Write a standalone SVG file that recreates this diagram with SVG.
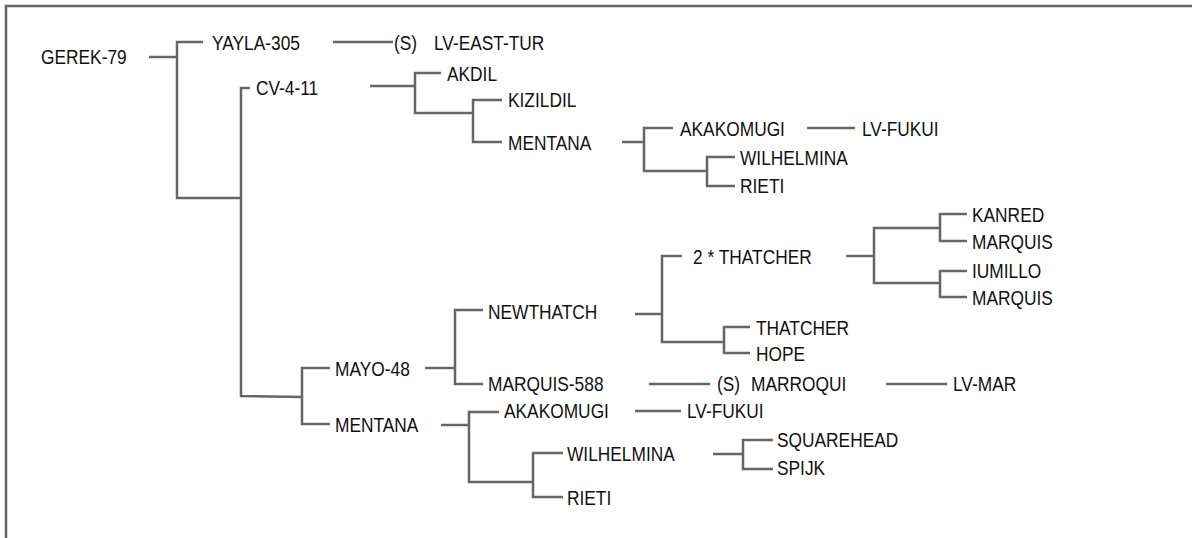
<svg xmlns="http://www.w3.org/2000/svg" width="1192" height="538" viewBox="0 0 1192 538">
<style>
.t{font-family:"Liberation Sans",Arial,sans-serif;font-size:21px;fill:#111;transform:scaleX(0.825);transform-box:fill-box;transform-origin:0 50%}
.c path{fill:none;stroke:#666;stroke-width:2.5}
.frame{fill:none;stroke:#666;stroke-width:2.5}
</style>
<rect x="0" y="0" width="1192" height="538" fill="#fff"/>
<rect class="frame" x="6" y="6" width="1220" height="600"/>
<g class="c" id="connectors">
<path d="M149,57 H177"/>
<path d="M203,42 H177 V198 H241"/>
<path d="M250,88 H241 V396 L302,397"/>
<path d="M333,42 H393"/>
<path d="M370,86 H415"/>
<path d="M441,73 H415 V113 H473"/>
<path d="M502,100 H473 V142 H502"/>
<path d="M622,142 H644"/>
<path d="M673,128 H644 V171 H707"/>
<path d="M735,157 H707 V186 H735"/>
<path d="M807,128 H855"/>
<path d="M635,314 H662"/>
<path d="M682,256 H662 V342 H724"/>
<path d="M750,327 H724 V353 H750"/>
<path d="M846,256 H874"/>
<path d="M940,228 H874 V283 H940"/>
<path d="M967,214 H940 V241 H967"/>
<path d="M967,271 H940 V297 H967"/>
<path d="M330,368 H302 V424 H330"/>
<path d="M425,368 H455"/>
<path d="M483,310 H455 V384 H483"/>
<path d="M649,384 H710"/>
<path d="M886,384 H947"/>
<path d="M441,425 H469"/>
<path d="M499,412 H469 V482 H533"/>
<path d="M563,453 H533 V497 H563"/>
<path d="M635,411 H681"/>
<path d="M713,454 H743"/>
<path d="M773,440 H743 V469 H773"/>
</g>
<g id="gerek79"><text class="t" x="41" y="64">GEREK-79</text></g>
<g id="yayla305"><text class="t" x="212" y="50">YAYLA-305</text></g>
<g id="lveasttur"><text class="t" x="394" y="50">(S)</text><text class="t" x="434" y="50">LV-EAST-TUR</text></g>
<g id="cv411"><text class="t" x="256" y="95">CV-4-11</text></g>
<g id="akdil"><text class="t" x="447" y="81">AKDIL</text></g>
<g id="kizildil"><text class="t" x="508" y="107">KIZILDIL</text></g>
<g id="mentana1"><text class="t" x="508" y="150">MENTANA</text></g>
<g id="akakomugi1"><text class="t" x="680" y="136">AKAKOMUGI</text></g>
<g id="lvfukui1"><text class="t" x="862" y="136">LV-FUKUI</text></g>
<g id="wilhelmina1"><text class="t" x="740" y="165">WILHELMINA</text></g>
<g id="rieti1"><text class="t" x="740" y="193">RIETI</text></g>
<g id="thatcher2"><text class="t" x="693" y="264">2 * THATCHER</text></g>
<g id="kanred"><text class="t" x="972" y="222">KANRED</text></g>
<g id="marquis1"><text class="t" x="972" y="249">MARQUIS</text></g>
<g id="iumillo"><text class="t" x="972" y="278">IUMILLO</text></g>
<g id="marquis2"><text class="t" x="972" y="305">MARQUIS</text></g>
<g id="thatcher"><text class="t" x="756" y="335">THATCHER</text></g>
<g id="hope"><text class="t" x="756" y="361">HOPE</text></g>
<g id="newthatch"><text class="t" x="488" y="319">NEWTHATCH</text></g>
<g id="mayo48"><text class="t" x="335" y="376">MAYO-48</text></g>
<g id="marquis588"><text class="t" x="488" y="391">MARQUIS-588</text></g>
<g id="marroqui"><text class="t" x="717" y="391">(S)</text><text class="t" x="751" y="391">MARROQUI</text></g>
<g id="lvmar"><text class="t" x="953" y="391">LV-MAR</text></g>
<g id="akakomugi2"><text class="t" x="504" y="418">AKAKOMUGI</text></g>
<g id="lvfukui2"><text class="t" x="687" y="418">LV-FUKUI</text></g>
<g id="mentana2"><text class="t" x="335" y="432">MENTANA</text></g>
<g id="wilhelmina2"><text class="t" x="567" y="461">WILHELMINA</text></g>
<g id="rieti2"><text class="t" x="567" y="505">RIETI</text></g>
<g id="squarehead"><text class="t" x="777" y="447">SQUAREHEAD</text></g>
<g id="spijk"><text class="t" x="777" y="475">SPIJK</text></g>
</svg>
